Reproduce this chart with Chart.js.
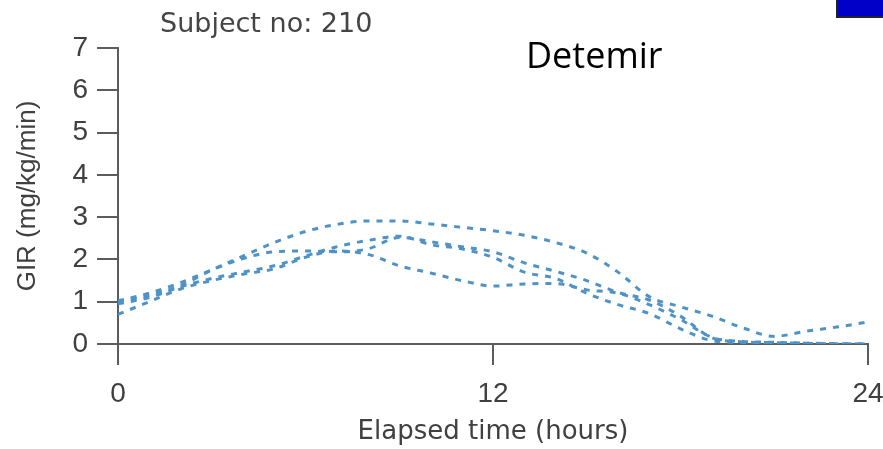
<!DOCTYPE html>
<html>
<head>
<meta charset="utf-8">
<script src="https://cdn.jsdelivr.net/npm/chart.js@4.4.1/dist/chart.umd.min.js"></script>
<style>
  html, body { margin: 0; padding: 0; background: #ffffff; }
  #wrap { width: 883px; height: 449px; }
</style>
</head>
<body>
<div id="wrap"><canvas id="c" width="883" height="449"></canvas></div>
<script>
// ---- data ----
const hours = [0,1,2,3,4,5,6,7,8,9,10,11,12,13,14,15,16,17,18,19,20,21,22,23,24];
const run1 = [1.00,1.15,1.38,1.75,2.08,2.40,2.66,2.83,2.91,2.91,2.84,2.76,2.68,2.57,2.40,2.15,1.70,1.12,0.88,0.66,0.38,0.18,0.30,0.40,0.52];
const run2 = [1.02,1.20,1.45,1.75,2.02,2.18,2.20,2.18,2.25,2.52,2.42,2.30,2.18,1.92,1.72,1.50,1.22,1.04,0.66,0.15,0.05,0.03,0.02,0.01,0.00];
const run3 = [0.70,1.00,1.30,1.50,1.65,1.78,2.05,2.20,2.12,1.85,1.68,1.50,1.37,1.42,1.43,1.28,1.20,0.93,0.58,0.16,0.06,0.04,0.02,0.00,0.00];
const run4 = [0.95,1.10,1.35,1.55,1.70,1.85,2.08,2.30,2.45,2.55,2.35,2.25,2.05,1.70,1.55,1.20,0.93,0.72,0.36,0.08,0.03,0.02,0.01,0.00,0.00];
const xTicks = [0, 12, 24];
const yTicks = [0, 1, 2, 3, 4, 5, 6, 7];
const subjectLabel = 'Subject no: 210';
const insulinLabel = 'Detemir';
const xTitle = 'Elapsed time (hours)';
const yTitle = 'GIR (mg/kg/min)';

const lineColor = '#4f93c6';
function series(vals) {
  return {
    data: hours.map((h, i) => ({ x: h, y: vals[i] })),
    borderColor: lineColor,
    borderWidth: 3,
    borderDash: [6, 7],
    pointRadius: 0,
    fill: false,
    cubicInterpolationMode: 'monotone'
  };
}

const overlay = {
  id: 'overlay',
  afterDraw(chart) {
    const ctx = chart.ctx;
    ctx.save();
    ctx.fillStyle = '#444444';
    ctx.font = '27px "DejaVu Sans"';
    ctx.textBaseline = 'alphabetic';
    ctx.textAlign = 'left';
    ctx.fillText(subjectLabel, 160, 32);
    ctx.fillStyle = '#000000';
    ctx.font = '36px "Open Sans"';
    ctx.fillText(insulinLabel, 526, 68);
    ctx.fillStyle = '#0000c8';
    ctx.fillRect(837, 0, 46, 17);
    ctx.strokeStyle = '#222222';
    ctx.lineWidth = 2;
    ctx.beginPath();
    ctx.moveTo(837, 0);
    ctx.lineTo(837, 17);
    ctx.lineTo(883, 17);
    ctx.stroke();
    ctx.restore();
  }
};

const axisColor = '#5c5c5c';
const textColor = '#404040';

new Chart(document.getElementById('c'), {
  type: 'line',
  data: { datasets: [series(run1), series(run2), series(run3), series(run4)] },
  options: {
    responsive: false,
    animation: false,
    layout: { padding: { top: 48, right: 0, left: 0, bottom: 0 } },
    plugins: { legend: { display: false }, tooltip: { enabled: false } },
    scales: {
      x: {
        type: 'linear',
        min: 0, max: 24,
        afterFit(s) { s.height = 105; s.paddingRight = 15; },
        afterBuildTicks(s) { s.ticks = xTicks.map(v => ({ value: v })); },
        grid: { drawOnChartArea: false, drawTicks: true, tickLength: 21, color: axisColor, lineWidth: 2 },
        border: { display: true, color: axisColor, width: 2 },
        ticks: { color: textColor, font: { family: 'Liberation Sans', size: 28 }, padding: 12, maxRotation: 0 },
        title: { display: true, text: xTitle, color: textColor, font: { family: 'DejaVu Sans', size: 26 }, padding: { top: 0, bottom: 1 } }
      },
      y: {
        type: 'linear',
        min: 0, max: 7,
        afterFit(s) { s.width = 118; },
        afterBuildTicks(s) { s.ticks = yTicks.map(v => ({ value: v })); },
        grid: { drawOnChartArea: false, drawTicks: true, tickLength: 21, color: axisColor, lineWidth: 2 },
        border: { display: true, color: axisColor, width: 2 },
        ticks: { color: textColor, font: { family: 'Liberation Sans', size: 28 }, padding: 9 },
        title: { display: true, text: yTitle, color: textColor, font: { family: 'Liberation Sans', size: 26 }, padding: { top: 12, bottom: 0 } }
      }
    }
  },
  plugins: [overlay]
});
</script>
</body>
</html>
